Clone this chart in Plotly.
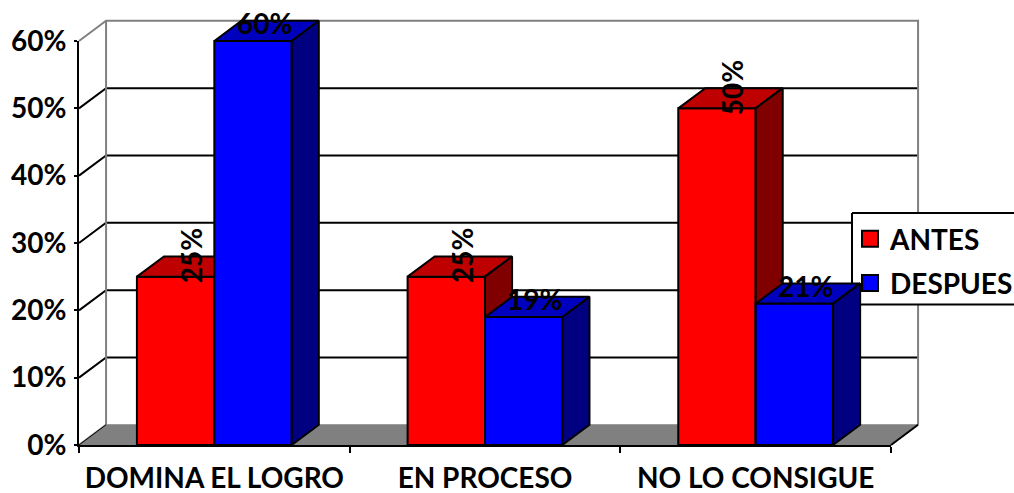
import plotly.graph_objects as go

# ---- data ----
categories = ["DOMINA EL LOGRO", "EN PROCESO", "NO LO CONSIGUE"]
antes = [25, 25, 50]
despues = [60, 19, 21]
y_ticks = [0, 10, 20, 30, 40, 50, 60]

# ---- style ----
W, H = 1014, 493
AX_L, AX_R, AX_T, AX_B = 79, 891, 41, 445
DEPTH_X, DEPTH_Y = 0.1, 3.0      # oblique offset of the 3D look, in data units
BAR_W = 0.286
FONT = "Lato"
C_RED = ("#FF0000", "#BF0000", "#800000")
C_BLUE = ("#0000FF", "#0000BF", "#000080")
GREY = "#808080"

x_idx = list(range(len(categories)))
x_lo, x_hi = -0.5, len(categories) - 0.5
y_lo, y_hi = y_ticks[0], y_ticks[-1]


def px_x(p):
    return x_lo + (p - AX_L) / (AX_R - AX_L) * (x_hi - x_lo)


def px_y(p):
    return y_lo + (AX_B - p) / (AX_B - AX_T) * (y_hi - y_lo)


def poly(xs, ys, fill, line="#000000", lw=2, xa="x", ya="y"):
    return go.Scatter(
        x=xs + xs[:1] if fill else xs, y=ys + ys[:1] if fill else ys,
        mode="lines", fill="toself" if fill else None, fillcolor=fill,
        line=dict(color=line, width=lw), hoverinfo="skip", showlegend=False,
        xaxis=xa, yaxis=ya,
    )


fig = go.Figure()

# floor
fig.add_trace(poly([x_lo, x_hi, x_hi + DEPTH_X, x_lo + DEPTH_X],
                   [y_lo, y_lo, y_lo + DEPTH_Y, y_lo + DEPTH_Y], GREY, line=GREY, lw=1))
# grid on the back wall and the left wall
for v in y_ticks[1:-1]:
    fig.add_trace(poly([x_lo, x_lo + DEPTH_X, x_hi + DEPTH_X],
                       [v, v + DEPTH_Y, v + DEPTH_Y], None, line="#000000", lw=2))
# back wall frame
fig.add_trace(poly([x_lo, x_lo + DEPTH_X, x_lo + DEPTH_X],
                   [y_lo, y_lo + DEPTH_Y, y_hi + DEPTH_Y], None, line=GREY, lw=2))
fig.add_trace(poly([x_lo, x_lo + DEPTH_X, x_hi + DEPTH_X, x_hi + DEPTH_X],
                   [y_hi, y_hi + DEPTH_Y, y_hi + DEPTH_Y, y_lo + DEPTH_Y], None, line=GREY, lw=2))
# legend backing (frame runs off the right edge of the picture)
fig.add_trace(poly([px_x(852), px_x(1030), px_x(1030), px_x(852)],
                   [px_y(213), px_y(213), px_y(304.5), px_y(304.5)], "#FFFFFF", lw=2))
fig.add_trace(poly([x_lo, x_lo + DEPTH_X], [y_lo, y_lo + DEPTH_Y], None, line="#000000", lw=1))
fig.add_trace(poly([x_hi, x_hi + DEPTH_X], [y_lo, y_lo + DEPTH_Y], None, line="#000000", lw=2))


def add_series(values, side, colors, xa, ya):
    left = [i - BAR_W if side == 0 else i for i in x_idx]
    fig.add_trace(go.Bar(
        x=x_idx, y=values, width=BAR_W, offset=-BAR_W if side == 0 else 0,
        marker=dict(color=colors[0], line=dict(color="#000000", width=2)),
        showlegend=False, hoverinfo="skip", xaxis=xa, yaxis=ya,
    ))
    for l, v in zip(left, values):
        r = l + BAR_W
        fig.add_trace(poly([l, r, r + DEPTH_X, l + DEPTH_X],
                           [v, v, v + DEPTH_Y, v + DEPTH_Y], colors[1], xa=xa, ya=ya))
        fig.add_trace(poly([r, r + DEPTH_X, r + DEPTH_X, r],
                           [v, v + DEPTH_Y, DEPTH_Y, 0], colors[2], xa=xa, ya=ya))


add_series(antes, 0, C_RED, "x2", "y2")
add_series(despues, 1, C_BLUE, "x3", "y3")

# legend entries, on the subplot that carries the visible axes
for name, col in (("ANTES", C_RED[0]), ("DESPUES", C_BLUE[0])):
    fig.add_trace(go.Scatter(
        x=[None], y=[None], mode="markers", name=name, legendgroup=name,
        xaxis="x4", yaxis="y4",
        marker=dict(symbol="square", size=16, color=col, line=dict(color="#000000", width=2)),
    ))

# value labels
label_font = dict(family=FONT, size=28, color="#000000", weight="bold")
for i, v in zip(x_idx, antes):
    fig.add_annotation(x=i - BAR_W / 2, y=v, text=f"{v}%", textangle=-90, showarrow=False,
                       xshift=15, yshift=21, font=label_font, xref="x4", yref="y4")
for i, v in zip(x_idx, despues):
    fig.add_annotation(x=i + BAR_W / 2, y=v, text=f"{v}%", showarrow=False,
                       xshift=11, yshift=18, font=label_font, xref="x4", yref="y4")

# the wall, floor and bar layers use full-page axes on the same scale as the visible axes,
# so the oblique faces can run past the front axes without being clipped
full_x = dict(domain=[0, 1], range=[px_x(0), px_x(W)], visible=False, fixedrange=True, automargin=False)
full_y = dict(domain=[0, 1], range=[px_y(H), px_y(0)], visible=False, fixedrange=True, automargin=False)
tick_font = dict(family=FONT, size=28, color="#000000", weight="bold")
fig.update_layout(
    width=W, height=H, margin=dict(l=0, r=0, t=0, b=0, autoexpand=False), autosize=False,
    paper_bgcolor="#FFFFFF", plot_bgcolor="rgba(0,0,0,0)", barmode="overlay",
    xaxis=dict(anchor="y", **full_x), yaxis=dict(anchor="x", **full_y),
    xaxis2=dict(anchor="y2", **full_x), yaxis2=dict(anchor="x2", **full_y),
    xaxis3=dict(anchor="y3", **full_x), yaxis3=dict(anchor="x3", **full_y),
    xaxis4=dict(
        anchor="y4", automargin=False,
        domain=[AX_L / W, AX_R / W], range=[x_lo, x_hi], tickmode="array", tickvals=x_idx, ticktext=categories,
        ticks="", showgrid=False, zeroline=False, showline=True, linecolor="#000000", linewidth=2,
        tickfont=tick_font, ticklabelstandoff=7, fixedrange=True,
        minor=dict(tickmode="array", tickvals=[x_lo + k for k in range(len(categories) + 1)],
                   ticks="outside", ticklen=6, tickwidth=2, tickcolor="#000000", showgrid=False),
    ),
    yaxis4=dict(
        anchor="x4", automargin=False,
        domain=[1 - AX_B / H, 1 - AX_T / H], range=[y_lo, y_hi], tickmode="array", tickvals=y_ticks,
        ticktext=[f"{v}%" for v in y_ticks], ticks="outside", ticklen=3, tickwidth=2,
        tickcolor="#000000", showgrid=False, zeroline=False, showline=True,
        linecolor="#000000", linewidth=2, fixedrange=True,
        tickfont=tick_font, ticklabelstandoff=2,
    ),
    legend=dict(
        x=850 / W, xanchor="left", y=1 - 214 / H, yanchor="top", bgcolor="rgba(0,0,0,0)",
        borderwidth=0, font=dict(family=FONT, size=28, color="#000000", weight="bold"),
        tracegroupgap=5,
    ),
    showlegend=True,
)

fig.write_html("out.html", config={"displayModeBar": False},
               post_script="document.body.style.margin='0';document.body.style.overflow='hidden';")
